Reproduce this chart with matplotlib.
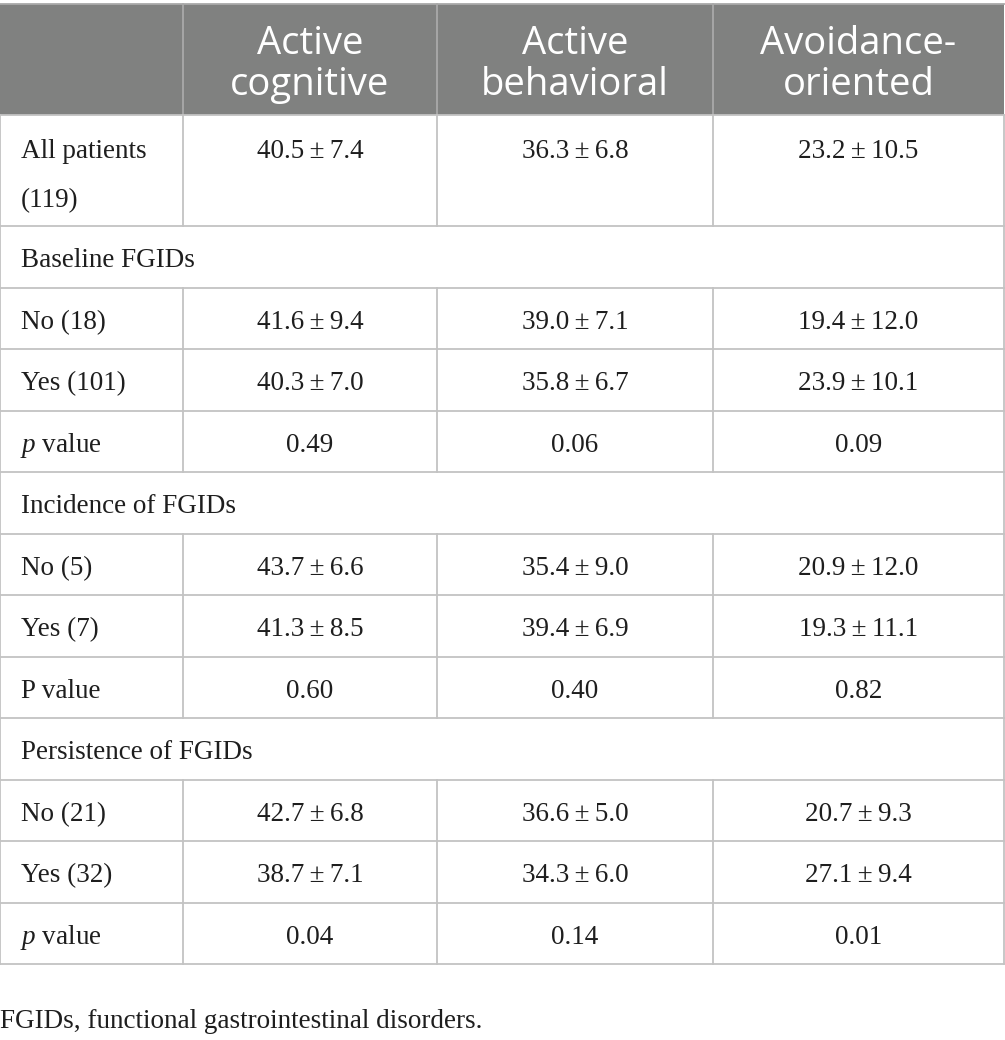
import matplotlib
matplotlib.use("Agg")
import matplotlib.pyplot as plt
from matplotlib.patches import Rectangle

# ---------------- data ----------------
columns = ["Active\ncognitive", "Active\nbehavioral", "Avoidance-\noriented"]
row_labels = ["All patients\n(119)", "Baseline FGIDs", "No (18)", "Yes (101)", "$p$ value",
              "Incidence of FGIDs", "No (5)", "Yes (7)", "P value",
              "Persistence of FGIDs", "No (21)", "Yes (32)", "$p$ value"]
active_cognitive = ["40.5 ± 7.4", None, "41.6 ± 9.4", "40.3 ± 7.0", "0.49",
                    None, "43.7 ± 6.6", "41.3 ± 8.5", "0.60",
                    None, "42.7 ± 6.8", "38.7 ± 7.1", "0.04"]
active_behavioral = ["36.3 ± 6.8", None, "39.0 ± 7.1", "35.8 ± 6.7", "0.06",
                     None, "35.4 ± 9.0", "39.4 ± 6.9", "0.40",
                     None, "36.6 ± 5.0", "34.3 ± 6.0", "0.14"]
avoidance_oriented = ["23.2 ± 10.5", None, "19.4 ± 12.0", "23.9 ± 10.1", "0.09",
                      None, "20.9 ± 12.0", "19.3 ± 11.1", "0.82",
                      None, "20.7 ± 9.3", "27.1 ± 9.4", "0.01"]
footnote = "FGIDs, functional gastrointestinal disorders."

# ---------------- layout ----------------
W, H = 1005, 1040
col_edges = [0, 183, 437, 713, 1004]
top = 4
header_h = 111
first_row_h = 111
row_h = 61.5
text_dy = 4

plt.rcParams['mathtext.fontset'] = 'custom'
plt.rcParams['mathtext.rm'] = 'Liberation Serif'
plt.rcParams['mathtext.it'] = 'Liberation Serif:italic'

fig = plt.figure(figsize=(W / 100, H / 100), dpi=100)
ax = fig.add_axes([0, 0, 1, 1])
ax.set_xlim(0, W)
ax.set_ylim(H, 0)
ax.axis("off")

body_font = dict(family="Liberation Serif", fontsize=19.5, color="#1e1e1e")
line_col = "#c3c3c3"
lw = 1.3

# header
ax.add_patch(Rectangle((col_edges[0], top), col_edges[-1] - col_edges[0], header_h,
                       facecolor="#808180", edgecolor="none", zorder=1))
for i, name in enumerate(columns):
    xc = (col_edges[i + 1] + col_edges[i + 2]) / 2
    ax.text(xc, top + header_h / 2 + 5, name, ha="center", va="center",
            family="Open Sans", fontsize=27.5, color="white", linespacing=1.12, zorder=3)
for x in col_edges[1:-1]:
    ax.plot([x, x], [top, top + header_h], color="#a9a9a9", lw=lw, zorder=2)
ax.plot([col_edges[0], col_edges[-1]], [top, top], color="#a9a9a9", lw=lw, zorder=2)

# body rows
values = [active_cognitive, active_behavioral, avoidance_oriented]
y = top + header_h
ax.plot([col_edges[0], col_edges[-1]], [y, y], color=line_col, lw=lw, zorder=2)
for r, label in enumerate(row_labels):
    h = first_row_h if r == 0 else row_h
    is_section = all(v[r] is None for v in values)
    if "\n" in label:
        ty = y + 33 + text_dy
        for k, part in enumerate(label.split("\n")):
            ax.text(21, ty + k * 49, part, ha="left", va="center", **body_font)
    else:
        ty = y + h / 2 + text_dy
        ax.text(20 if label.startswith("$") else 21, ty, label,
                ha="left", va="center", **body_font)
    if not is_section:
        for c in range(3):
            xc = (col_edges[c + 1] + col_edges[c + 2]) / 2
            ax.text(xc, ty, values[c][r].replace(" ± ", "\u2009±\u2009"),
                    ha="center", va="center", **body_font)
        for x in col_edges[1:-1]:
            ax.plot([x, x], [y, y + h], color=line_col, lw=lw, zorder=2)
    ax.plot([col_edges[0], col_edges[0]], [y, y + h], color=line_col, lw=lw, zorder=2)
    ax.plot([col_edges[-1], col_edges[-1]], [y, y + h], color=line_col, lw=lw, zorder=2)
    y += h
    ax.plot([col_edges[0], col_edges[-1]], [y, y], color=line_col, lw=lw, zorder=2)

ax.text(0, 1018 + text_dy - 1, footnote, ha="left", va="center", **body_font)

fig.savefig("out.png", dpi=100, facecolor="white")
